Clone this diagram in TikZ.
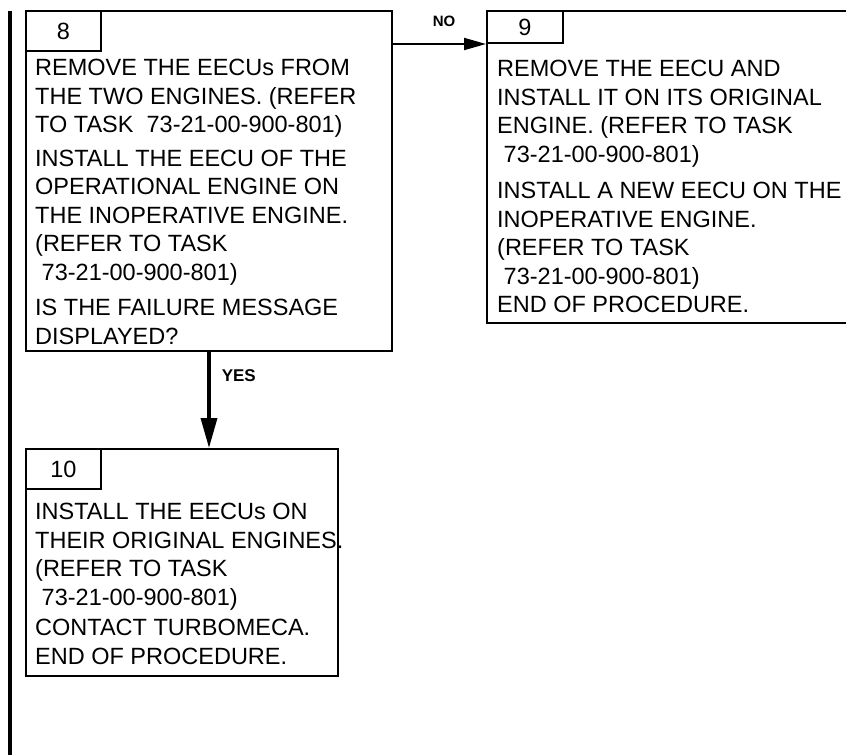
\documentclass[tikz,border=0pt]{standalone}
\usepackage{fontspec}
\setmainfont{Liberation Sans}
\usepackage{tikz}
\usetikzlibrary{arrows.meta,positioning}

\begin{document}
\begin{tikzpicture}[x=1pt, y=-1pt,
    stepbox/.style={draw, line width=2pt, anchor=north west, inner sep=0pt},
    numtab/.style={draw, line width=2pt, anchor=north west, inner sep=0pt, minimum width=75pt, font=\fontsize{23.5}{26}\selectfont},
    bodytext/.style={inner sep=0pt, align=left, font=\fontsize{23.5}{28.5}\selectfont},
    flowlabel/.style={inner sep=0pt, font=\fontsize{15}{17}\selectfont\bfseries}]
    \useasboundingbox (0,0) rectangle (846,755);

    % left change bar
    \coordinate (bartop) at (10,11);
    \coordinate (barbot) at (10,755);
    \draw[line width=4pt] (bartop) -- (barbot);

    \node[stepbox, minimum width=366pt, minimum height=340pt] (b8) at (25,10) {};
    \node[numtab, minimum height=40pt] (t8) at (b8.north west) {8};
    \node[bodytext, below right=7pt and 10pt of t8.south west] (x8) {REMOVE THE EECUs FROM\\
      THE TWO ENGINES. (REFER\\
      TO TASK\ \ 73-21-00-900-801)\\[5pt]
      INSTALL THE EECU OF THE\\
      OPERATIONAL ENGINE ON\\
      THE INOPERATIVE ENGINE.\\
      (REFER TO TASK\\
      \ 73-21-00-900-801)\\[7pt]
      IS THE FAILURE MESSAGE\\
      DISPLAYED?};

    \node[stepbox, minimum width=370pt, minimum height=312pt] (b9) at (486,10) {};
    \node[numtab, minimum width=76pt, minimum height=32pt] (t9) at (b9.north west) {9};
    \node[bodytext, below right=16pt and 11pt of t9.south west] (x9) {REMOVE THE EECU AND\\
      INSTALL IT ON ITS ORIGINAL\\
      ENGINE. (REFER TO TASK\\
      \ 73-21-00-900-801)\\[8pt]
      INSTALL A NEW EECU ON THE\\
      INOPERATIVE ENGINE.\\
      (REFER TO TASK\\
      \ 73-21-00-900-801)\\
      END OF PROCEDURE.};

    \node[stepbox, minimum width=312pt, minimum height=227pt] (b10) at (25,448) {};
    \node[numtab, minimum height=40pt] (t10) at (b10.north west) {10};
    \node[bodytext, below right=13pt and 10pt of t10.south west] (x10) {INSTALL THE EECUs ON\\
      THEIR ORIGINAL ENGINES.\\
      (REFER TO TASK\\
      \ 73-21-00-900-801)\\[2pt]
      CONTACT TURBOMECA.\\
      END OF PROCEDURE.};

    \draw[line width=2pt, -{Triangle[length=22pt, width=12pt]}] (b8.east |- t9.south west) -- (t9.south west)
      node[flowlabel, pos=0.55, above=16pt] (no) {NO};
    \draw[line width=3.5pt, -{Triangle[length=30pt, width=16pt]}] (b8.south) -- (b8.south |- b10.north)
      node[flowlabel, pos=0.25, right=11pt, font=\fontsize{17}{19}\selectfont\bfseries] (yes) {YES};
  \end{tikzpicture}
\end{document}
